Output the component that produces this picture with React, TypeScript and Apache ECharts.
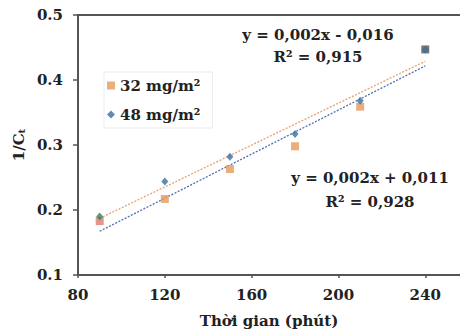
import React, { useEffect, useRef } from "react";
import * as echarts from "echarts";

const times = [90, 120, 150, 180, 210, 240];
const values32 = [0.183, 0.217, 0.263, 0.298, 0.359, 0.447];
const values48 = [0.19, 0.244, 0.282, 0.317, 0.368, 0.447];
const xTicks = [80, 120, 160, 200, 240];
const eq32 = ["y = 0,002x - 0,016", "R² = 0,915"];
const eq48 = ["y = 0,002x + 0,011", "R² = 0,928"];
const seriesNames = ["32 mg/m²", "48 mg/m²"];

const FONT = "'DejaVu Serif', 'Liberation Serif', serif";

function fitLine(xs: number[], ys: number[]) {
  const n = xs.length;
  const mx = xs.reduce((a, b) => a + b, 0) / n;
  const my = ys.reduce((a, b) => a + b, 0) / n;
  let sxy = 0, sxx = 0;
  for (let i = 0; i < n; i++) {
    sxy += (xs[i] - mx) * (ys[i] - my);
    sxx += (xs[i] - mx) * (xs[i] - mx);
  }
  const slope = sxy / sxx;
  const icpt = my - slope * mx;
  const x0 = xs[0], x1 = xs[n - 1];
  return [[x0, icpt + slope * x0], [x1, icpt + slope * x1]];
}

export default function App() {
  const ref = useRef<HTMLDivElement>(null);
  useEffect(() => {
    if (!ref.current) return;
    const chart = echarts.init(ref.current, null, { renderer: "svg" });
    const orange = "#E59A5C";
    const blue = "#3C6E9C";
    const axisColor = "#555";
    const sq = times.map((t, i) => {
      const p: any = { value: [t, values32[i]] };
      if (i === 0) p.itemStyle = { color: "#E07A70" };
      if (i === times.length - 1) p.itemStyle = { color: "#555" };
      return p;
    });
    const dm = times.map((t, i) => {
      const p: any = { value: [t, values48[i]] };
      if (i === 0) p.itemStyle = { color: "#2F7F5C" };
      return p;
    });
    const textStyle = { fontFamily: FONT, fontWeight: "bold", fontSize: 15, fill: "#222" };
    chart.setOption({
      animation: false,
      grid: { left: 78, top: 15, right: 0, bottom: 57 },
      legend: {
        data: [
          { name: seriesNames[0], icon: "rect" },
          { name: seriesNames[1], icon: "diamond" },
        ],
        orient: "vertical",
        left: 104,
        top: 72,
        itemWidth: 8,
        itemHeight: 8,
        itemGap: 14,
        padding: [6, 12, 6, 3],
        borderColor: "#e6ecf3",
        borderWidth: 1,
        textStyle: { fontFamily: FONT, fontWeight: "bold", fontSize: 15, color: "#222" },
      },
      xAxis: [
        {
          type: "value",
          min: 80,
          max: 256,
          interval: 40,
          name: "Thời gian (phút)",
          nameLocation: "middle",
          nameGap: 38,
          nameTextStyle: { fontFamily: FONT, fontWeight: "bold", fontSize: 15, color: "#222" },
          axisLine: { lineStyle: { color: axisColor, width: 2 } },
          axisTick: { show: true, length: 3, customValues: xTicks, lineStyle: { color: axisColor, width: 1.5 } },
          axisLabel: {
            customValues: xTicks,
            margin: 12,
            fontFamily: FONT,
            fontWeight: "bold",
            fontSize: 15,
            color: "#222",
          },
          splitLine: { show: false },
        },
        {
          type: "value",
          position: "top",
          min: 80,
          max: 256,
          axisLine: { show: true, lineStyle: { color: axisColor, width: 2 } },
          axisTick: { show: false },
          axisLabel: { show: false },
          splitLine: { show: false },
        },
      ],
      yAxis: {
        type: "value",
        min: 0.1,
        max: 0.5,
        interval: 0.1,
        name: "{a|1/C}{b|t}",
        nameLocation: "middle",
        nameRotate: 90,
        nameGap: 45,
        nameTextStyle: {
          rich: {
            a: { fontFamily: FONT, fontWeight: "bold", fontSize: 15, lineHeight: 15, verticalAlign: "top", color: "#222" },
            b: { fontFamily: FONT, fontWeight: "bold", fontSize: 10, lineHeight: 10, verticalAlign: "bottom", padding: [8, 0, 0, 0], color: "#222" },
          },
        },
        axisLine: { show: true, lineStyle: { color: axisColor, width: 2 } },
        axisTick: { show: true, length: 5, lineStyle: { color: axisColor, width: 1.5 } },
        axisLabel: {
          margin: 15,
          fontFamily: FONT,
          fontWeight: "bold",
          fontSize: 15,
          color: "#222",
          formatter: (v: number) => v.toFixed(1),
        },
        splitLine: { show: false },
      },
      series: [
        {
          type: "line",
          data: fitLine(times, values48),
          symbol: "none",
          lineStyle: { color: "#E8A070", width: 1.3, type: [2, 1.5] },
          z: 1,
          silent: true,
        },
        {
          type: "line",
          data: fitLine(times, values32),
          symbol: "none",
          lineStyle: { color: "#4C6FB5", width: 1.3, type: [2, 1.5] },
          z: 1,
          silent: true,
        },
        {
          name: seriesNames[0],
          type: "scatter",
          data: sq,
          symbol: "rect",
          symbolSize: 8,
          itemStyle: { color: orange },
          z: 3,
        },
        {
          name: seriesNames[1],
          type: "scatter",
          data: dm,
          symbol: "diamond",
          symbolSize: [7, 8],
          itemStyle: { color: blue },
          z: 4,
        },
      ],
      graphic: [
        { type: "text", x: 318, y: 35, style: { ...textStyle, text: eq32[0], textAlign: "center", textVerticalAlign: "middle" } },
        { type: "text", x: 318, y: 57, style: { ...textStyle, text: eq32[1], textAlign: "center", textVerticalAlign: "middle" } },
        { type: "text", x: 370, y: 178, style: { ...textStyle, text: eq48[0], textAlign: "center", textVerticalAlign: "middle" } },
        { type: "text", x: 370, y: 202, style: { ...textStyle, text: eq48[1], textAlign: "center", textVerticalAlign: "middle" } },
      ],
    });
    return () => chart.dispose();
  }, []);
  return (
    <div
      ref={ref}
      style={{ position: "fixed", left: 0, top: 0, width: 460, height: 333, background: "#fff" }}
    />
  );
}
